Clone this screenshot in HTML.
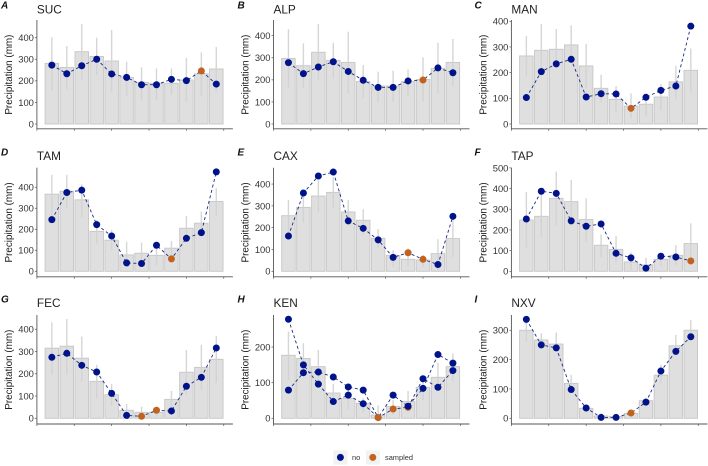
<!DOCTYPE html>
<html>
<head>
<meta charset="utf-8">
<title>Monthly precipitation by site</title>
<style>
html,body{margin:0;padding:0;background:#fff;width:708px;height:466px;overflow:hidden}
svg{display:block;font-family:"Liberation Sans",Arial,sans-serif}
</style>
</head>
<body>
<svg id="chart" xmlns="http://www.w3.org/2000/svg" width="708" height="466" viewBox="0 0 708 466"></svg>
<script>
const months = [1,2,3,4,5,6,7,8,9,10,11,12];
const xTicks = [0,2.5,5,7.5,10,12.5];

const barsA = [281,262,335,313,292,216,193,189,189,204,232,255];
const hiA = [402,361,463,400,436,289,263,258,258,307,332,357];
const loA = [154,162,204,227,150,130,108,111,134,100,127,150];
const ptsA = [273,233,270,300,232,216,182,182,207,201,246,185];
const sampledA = [11];
const ticksA = [0,100,200,300,400];

const barsB = [297,264,325,288,279,192,172,172,192,202,252,279];
const hiB = [429,365,453,368,418,267,237,241,248,302,368,385];
const loB = [165,162,199,207,139,116,98,101,131,101,139,169];
const ptsB = [278,228,258,282,238,198,166,166,195,199,254,232];
const sampledB = [10];
const ticksB = [0,100,200,300,400];

const barsC = [265,287,291,308,226,139,96,70,77,105,164,209];
const hiC = [343,390,370,384,312,192,148,119,107,156,227,294];
const loC = [184,191,223,249,139,83,44,22,29,52,96,122];
const ptsC = [103,204,234,252,105,118,117,61,104,131,148,381];
const sampledC = [8];
const ticksC = [0,100,200,300,400];

const barsD = [367,381,340,190,148,78,86,76,110,205,229,332];
const hiD = [459,459,414,244,197,141,137,125,144,263,284,395];
const loD = [237,300,259,132,97,30,22,30,54,141,173,265];
const ptsD = [246,375,386,222,168,40,37,124,59,157,184,473];
const sampledD = [9];
const ticksD = [0,100,200,300,400];

const barsE = [255,293,345,362,272,234,151,73,55,52,81,150];
const hiE = [327,350,418,431,327,285,194,96,105,75,147,235];
const loE = [166,223,273,292,220,166,108,21,21,21,6,66];
const ptsE = [162,359,437,455,231,197,144,64,85,55,31,252];
const sampledE = [9,10];
const ticksE = [0,100,200,300,400];

const barsF = [248,266,353,337,250,126,106,45,31,58,77,134];
const hiF = [384,387,482,442,353,179,171,92,65,82,127,232];
const loF = [115,163,224,232,144,69,43,6,2,22,27,63];
const ptsF = [253,387,377,244,218,229,87,65,15,73,69,50];
const sampledF = [12];
const ticksF = [0,100,200,300,400,500];

const barsG = [315,324,270,166,106,36,27,27,85,207,229,265];
const hiG = [431,446,367,240,154,64,52,37,123,307,330,370];
const loG = [195,195,165,90,55,7,4,7,30,105,127,160];
const ptsG = [274,292,238,208,112,13,9,36,33,144,184,316];
const sampledG = [7,8];
const ticksG = [0,100,200,300,400];

const barsH = [177,168,145,71,56,42,9,33,47,87,115,145];
const hiH = [243,211,192,96,79,56,37,51,77,112,156,182];
const loH = [107,120,98,47,25,16,0,9,19,50,79,103];
const ptsH1 = [278,150,96,47,65,41,2,65,34,84,179,155];
const ptsH2 = [79,128,130,116,88,79,2,26,31,111,87,134];
const sampledH1 = [7];
const sampledH2 = [7,8,9];
const ticksH = [0,100,200];

const barsI = [300,267,253,119,34,8,6,17,60,147,247,300];
const hiI = [337,290,292,148,45,17,10,23,70,182,284,335];
const loI = [261,239,227,97,26,2,2,11,50,119,216,267];
const ptsI = [337,250,240,98,35,3,3,18,55,161,228,278];
const sampledI = [8];
const ticksI = [0,100,200,300];

const panels = [
  {tag:'A',site:'SUC',col:0,row:0,yMax:482,bars:barsA,hi:hiA,lo:loA,series:[ptsA],sampled:[sampledA],ticks:ticksA},
  {tag:'B',site:'ALP',col:1,row:0,yMax:471,bars:barsB,hi:hiB,lo:loB,series:[ptsB],sampled:[sampledB],ticks:ticksB},
  {tag:'C',site:'MAN',col:2,row:0,yMax:405,bars:barsC,hi:hiC,lo:loC,series:[ptsC],sampled:[sampledC],ticks:ticksC},
  {tag:'D',site:'TAM',col:0,row:1,yMax:493,bars:barsD,hi:hiD,lo:loD,series:[ptsD],sampled:[sampledD],ticks:ticksD},
  {tag:'E',site:'CAX',col:1,row:1,yMax:475,bars:barsE,hi:hiE,lo:loE,series:[ptsE],sampled:[sampledE],ticks:ticksE},
  {tag:'F',site:'TAP',col:2,row:1,yMax:501,bars:barsF,hi:hiF,lo:loF,series:[ptsF],sampled:[sampledF],ticks:ticksF},
  {tag:'G',site:'FEC',col:0,row:2,yMax:464,bars:barsG,hi:hiG,lo:loG,series:[ptsG],sampled:[sampledG],ticks:ticksG},
  {tag:'H',site:'KEN',col:1,row:2,yMax:290,bars:barsH,hi:hiH,lo:loH,series:[ptsH1,ptsH2],sampled:[sampledH1,sampledH2],ticks:ticksH},
  {tag:'I',site:'NXV',col:2,row:2,yMax:352,bars:barsI,hi:hiI,lo:loI,series:[ptsI],sampled:[sampledI],ticks:ticksI}
];

const colLeft = [36.9, 273.5, 511.4];
const rowTop = [20, 167.7, 315];
const rowZero = [124, 271.3, 418.3];
const rowAxis = [128.8, 276.8, 424];
const tagX = [1, 237.5, 474.5];
const tagY = [8.5, 155.5, 302.5];
const titleY = [13.3, 160, 307];

const NAVY = '#00138a';
const ORANGE = '#c1621f';
const svg = document.getElementById('chart');

function mk(parent, tag, attrs, text) {
  const el = document.createElementNS('http://www.w3.org/2000/svg', tag);
  for (const k in attrs) el.setAttribute(k, attrs[k]);
  if (text !== undefined) el.textContent = text;
  parent.appendChild(el);
  return el;
}

panels.forEach(function (p) {
  const left = colLeft[p.col];
  const top = rowTop[p.row];
  const zero = rowZero[p.row];
  const axisY = rowAxis[p.row];
  const xScale = function (m) { return left + m * 14.95; };
  const yScale = function (v) { return zero - (v / p.yMax) * (zero - top); };
  const bw = 13.5;

  const g = mk(svg, 'g', {});
  
  

  const tagEl = mk(g, 'text', {x: tagX[p.col], y: tagY[p.row], 'font-size': 10, 'font-weight': 'bold', 'font-style': 'italic', fill: '#111'}, p.tag);
  
  

  const titleEl = mk(g, 'text', {x: left, y: titleY[p.row], 'font-size': 11.8, fill: '#222'}, p.site);
  
  

  months.forEach(function (m, i) {
    const y = yScale(p.bars[i]);
    const bar = mk(g, 'rect', {x: xScale(m) - bw / 2, y: y, width: bw, height: zero - y, fill: '#dfdfdf', stroke: '#c6c6c6', 'stroke-width': 0.9});
    
    
  });

  months.forEach(function (m, i) {
    const wh = mk(g, 'line', {x1: xScale(m), x2: xScale(m), y1: yScale(p.hi[i]), y2: yScale(p.lo[i]), stroke: '#d2d2d2', 'stroke-opacity': 0.9, 'stroke-width': 1.4});
    
    
  });

  p.series.forEach(function (vals) {
    const pts = months.map(function (m, i) { return xScale(m).toFixed(2) + ',' + yScale(vals[i]).toFixed(2); }).join(' ');
    const line = mk(g, 'polyline', {points: pts, fill: 'none', stroke: '#1b2a80', 'stroke-width': 0.9, 'stroke-dasharray': '3 2.6'});
    
    
  });

  [true, false].forEach(function (wantSampled) {
    p.series.forEach(function (vals, s) {
      months.forEach(function (m, i) {
        const isSampled = p.sampled[s].indexOf(m) !== -1;
        if (isSampled !== wantSampled) return;
        const c = mk(g, 'circle', {cx: xScale(m), cy: yScale(vals[i]), r: 3.5, fill: isSampled ? ORANGE : NAVY});
        
        
      });
    });
  });

  const yAxis = mk(g, 'line', {x1: left, x2: left, y1: top, y2: axisY, stroke: '#555', 'stroke-width': 0.9});
  
  

  const xAxis = mk(g, 'line', {x1: left - 0.4, x2: left + 196, y1: axisY, y2: axisY, stroke: '#555', 'stroke-width': 0.9});
  
  

  xTicks.forEach(function (t) {
    const tick = mk(g, 'line', {x1: xScale(t), x2: xScale(t), y1: axisY, y2: axisY + 2, stroke: '#555', 'stroke-width': 0.7});
    
    
  });

  p.ticks.forEach(function (t) {
    const tick = mk(g, 'line', {x1: left - 2, x2: left, y1: yScale(t), y2: yScale(t), stroke: '#555', 'stroke-width': 0.7});
    
    
    const label = mk(g, 'text', {x: left - 3, y: yScale(t) + 3.4, 'font-size': 9.4, 'text-anchor': 'end', fill: '#333'}, String(t));
    
    
  });

  const mid = (top + axisY) / 2 + 0.2;
  const yt = mk(g, 'text', {x: 0, y: 0, transform: 'translate(' + (left - 24.8) + ',' + mid + ') rotate(-90)', 'font-size': 9.9, 'text-anchor': 'middle', fill: '#222'}, 'Precipitation (mm)');
  
  
});
</script>
<svg xmlns="http://www.w3.org/2000/svg" width="708" height="30" viewBox="0 436 708 30" style="position:absolute;left:0;top:436px;font-family:'Liberation Sans',Arial,sans-serif">
  <g>
    <rect x="333.5" y="450.5" width="14" height="14" fill="#f2f2f2"/>
    <circle cx="340.4" cy="457.4" r="3.5" fill="#00138a"/>
    <text x="352" y="460" font-size="7.4" fill="#333">no</text>
  </g>
  <g>
    <rect x="366" y="450.5" width="14" height="14" fill="#f2f2f2"/>
    <circle cx="372.8" cy="457.4" r="3.5" fill="#c1621f"/>
    <text x="385" y="460" font-size="7.4" fill="#333">sampled</text>
  </g>
</svg>
</body>
</html>
